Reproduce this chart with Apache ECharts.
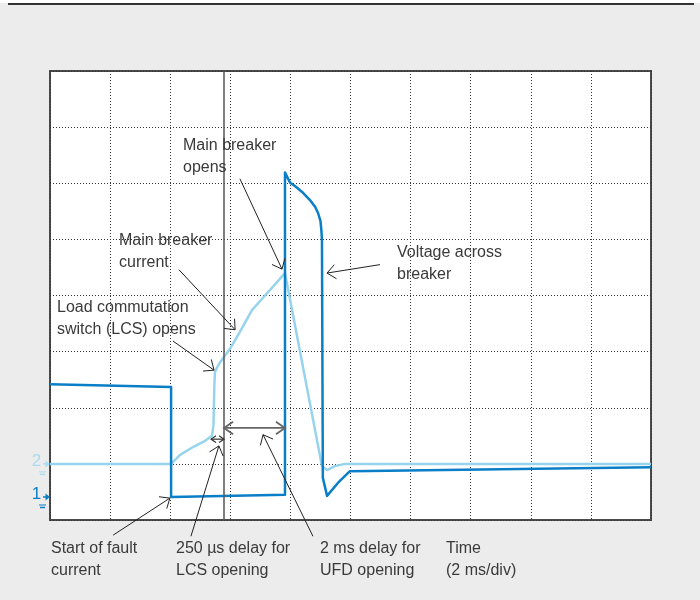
<!DOCTYPE html>
<html><head><meta charset="utf-8">
<script src="https://cdn.jsdelivr.net/npm/echarts@6/dist/echarts.min.js"></script>
<style>html,body{margin:0;padding:0;background:#ececec;}#c{width:700px;height:600px;}</style>
</head><body><div id="c"></div>
<script>
// ---- data (time in ms, amplitude in divisions) ----
const voltTime = [0, 4.03, 4.03, 7.82, 7.82, 7.99, 8.15, 8.42, 8.65, 8.82, 8.92, 9.00, 9.03, 9.05, 9.08, 9.22, 9.58, 9.98, 20];
const voltDiv  = [2.42, 2.37, 0.41, 0.45, 6.19, 6.01, 5.95, 5.83, 5.70, 5.58, 5.47, 5.33, 5.17, 4.99, 0.75, 0.43, 0.66, 0.87, 0.94];
const currTime = [0, 4.03, 4.33, 4.76, 5.16, 5.39, 5.44, 5.47, 5.49, 5.62, 5.99, 6.39, 6.72, 7.09, 7.82, 9.05, 9.22, 9.48, 9.82, 20];
const currDiv  = [1.0, 1.0, 1.16, 1.30, 1.41, 1.50, 1.69, 2.41, 2.64, 2.78, 3.05, 3.42, 3.74, 3.96, 4.40, 0.96, 0.89, 0.96, 1.0, 1.0];
const cursorTime = [5.79];
const channelLevels = [0.41, 1.0];       // ch1, ch2 reference levels
const channelNames = ['1', '2'];
// annotation arrows in data space: [t, y]
const arrowTails = [[2.10,-0.27],[4.69,-0.29],[8.75,-0.29],[4.09,3.19],[4.29,4.46],[6.32,6.08],[10.98,4.55]];
const arrowTips  = [[3.99,0.39],[5.62,1.32],[7.09,1.52],[5.46,2.67],[6.16,3.39],[7.72,4.47],[9.22,4.40]];
// double arrows: [t1, t2, y]
const spans = [[5.36, 5.79, 1.44], [5.79, 7.82, 1.64]];
const labels = [
  'Main breaker\nopens', 'Main breaker\ncurrent', 'Load commutation\nswitch (LCS) opens',
  'Voltage across\nbreaker', 'Start of fault\ncurrent', '250 µs delay for\nLCS opening',
  '2 ms delay for\nUFD opening', 'Time\n(2 ms/div)'
];

const DARK = '#0a7ec6', LIGHT = '#96d4ee';
const chart = echarts.init(document.getElementById('c'));
const axisCommon = {
  axisLine:{show:false}, axisTick:{show:false}, axisLabel:{show:false},
  splitLine:{show:true, lineStyle:{color:'#333', width:1, type:[1,2]}}
};
chart.setOption({
  backgroundColor:'#ececec',
  animation:false,
  grid:{left:50, top:71, width:601, height:449, show:true, backgroundColor:'#fff', borderColor:'#4a4a4a', borderWidth:2},
  xAxis:Object.assign({type:'value', min:0, max:20, interval:2}, axisCommon),
  yAxis:Object.assign({type:'value', min:0, max:8, interval:1}, axisCommon),
  series:[
    {type:'line', data:currTime.map((t,i)=>[t,currDiv[i]]), showSymbol:false, lineStyle:{color:LIGHT, width:2.5}, z:3,
     markLine:{silent:true, symbol:'none', label:{show:false}, lineStyle:{color:'#555', width:1.5, type:'solid'},
       data:cursorTime.map(t=>({xAxis:t}))}},
    {type:'line', data:voltTime.map((t,i)=>[t,voltDiv[i]]), showSymbol:false, lineStyle:{color:DARK, width:2.5, join:'round'}, z:4}
  ]
});

function px(p){ return chart.convertToPixel({xAxisIndex:0, yAxisIndex:0}, p); }
function head(tip, from, len, ang){
  const d = Math.atan2(tip[1]-from[1], tip[0]-from[0]) + Math.PI;
  return [[tip[0]+len*Math.cos(d+ang), tip[1]+len*Math.sin(d+ang)], tip, [tip[0]+len*Math.cos(d-ang), tip[1]+len*Math.sin(d-ang)]];
}
const g = [
  {type:'rect', shape:{x:0,y:0,width:700,height:3}, style:{fill:'#fff'}},
  {type:'rect', shape:{x:8,y:3,width:686,height:2}, style:{fill:'#333'}}
];
arrowTails.forEach((tl,i)=>{
  const a = px(tl), b = px(arrowTips[i]);
  g.push({type:'polyline', shape:{points:[a,b]}, style:{stroke:'#222', lineWidth:1, fill:null}, z:10});
  g.push({type:'polyline', shape:{points:head(b,a,11,0.7)}, style:{stroke:'#222', lineWidth:1, fill:null}, z:10});
});
spans.forEach((s,i)=>{
  const a = px([s[0],s[2]]), b = px([s[1],s[2]]);
  const col = i===0 ? '#333' : '#666', w = i===0 ? 1.2 : 1.8, L = i===0 ? 6 : 11;
  g.push({type:'polyline', shape:{points:[a,b]}, style:{stroke:col, lineWidth:w, fill:null}, z:10});
  g.push({type:'polyline', shape:{points:head(b,a,L,0.6)}, style:{stroke:col, lineWidth:w, fill:null}, z:10});
  g.push({type:'polyline', shape:{points:head(a,b,L,0.6)}, style:{stroke:col, lineWidth:w, fill:null}, z:10});
});
const labelPos = [[183,135],[119,230],[57,297],[397,242],[51,538],[176,538],[320,538],[446,538]];
labels.forEach((t,i)=>{
  g.push({type:'text', x:labelPos[i][0], y:labelPos[i][1], z:11,
    style:{text:t, font:'16px "Liberation Sans", Arial, sans-serif', fill:'#3a3a3a', lineHeight:21.5, verticalAlign:'top', align:'left'}});
});
// channel markers
const chCols = [DARK, '#a9dcf1'];
channelLevels.forEach((lv,i)=>{
  const y = px([0,lv])[1];
  g.push({type:'text', x:36.5, y:y-2.5, style:{text:channelNames[i], font:'17px "Liberation Sans", Arial, sans-serif', fill:chCols[i], align:'center', verticalAlign:'middle'}});
  g.push({type:'line', shape:{x1:43,y1:y,x2:47,y2:y}, style:{stroke:chCols[i], lineWidth:1.5}});
  g.push({type:'polygon', shape:{points:[[45.5,y-3.5],[50,y],[45.5,y+3.5]]}, style:{fill:chCols[i]}});
  g.push({type:'line', shape:{x1:39,y1:y+8,x2:46,y2:y+8}, style:{stroke:chCols[i], lineWidth:1}});
  g.push({type:'line', shape:{x1:40,y1:y+10.5,x2:45,y2:y+10.5}, style:{stroke:chCols[i], lineWidth:1.5}});
});
chart.setOption({graphic:g});
</script></body></html>
